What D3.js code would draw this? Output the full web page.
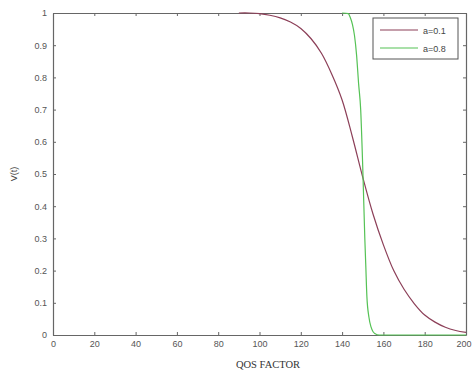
<!DOCTYPE html>
<html>
<head>
<meta charset="utf-8">
<script src="https://cdn.jsdelivr.net/npm/d3@7"></script>
<style>
  html, body { margin: 0; padding: 0; background: #fff; }
  svg { display: block; }
  .tick text { font-family: Arial, "Liberation Sans", sans-serif; font-size: 9px; fill: #555; }
</style>
</head>
<body>
<svg id="chart" width="472" height="376"></svg>
<script>
// a = 0.1 curve
const xLow = [90, 95, 100, 105, 110, 115, 120, 125, 130, 135, 140, 145, 150, 155, 160, 165, 170, 175, 180, 185, 190, 195, 200];
const yLow = [1, 1, 0.998, 0.993, 0.985, 0.972, 0.952, 0.92, 0.875, 0.81, 0.73, 0.615, 0.49, 0.375, 0.28, 0.2, 0.142, 0.097, 0.062, 0.04, 0.024, 0.014, 0.008];
// a = 0.8 curve
const xHigh = [140, 143, 144, 145, 146, 147, 148, 149, 150, 151, 151.5, 152, 153, 154, 155, 156, 158, 170, 200];
const yHigh = [1, 0.998, 0.985, 0.965, 0.93, 0.87, 0.78, 0.70, 0.52, 0.30, 0.21, 0.12, 0.055, 0.025, 0.01, 0.004, 0, 0, 0];
const seriesNames = ["a=0.1", "a=0.8"];
const seriesColors = ["#8c3f58", "#55c255"];
const xTicks = d3.range(0, 201, 20);
const yTicks = d3.range(0, 1.01, 0.1);

const svg = d3.select("#chart");
const L = 53, R = 466, T = 13, B = 335;
const x = d3.scaleLinear().domain([0, 200]).range([L, R]);
const y = d3.scaleLinear().domain([0, 1]).range([B, T]);

const fmtY = d => d === 0 ? "0" : d === 1 ? "1" : d3.format(".1f")(d);

// axes with inward ticks, box style
const axisStyle = g => {
  g.select(".domain").attr("stroke", "#666").attr("stroke-width", 1.2);
  g.selectAll(".tick line").attr("stroke", "#666");
};
const xAxis = svg.append("g").attr("transform", `translate(0,${B})`)
  .call(d3.axisBottom(x).tickValues(xTicks).tickSizeInner(-3).tickSizeOuter(0).tickPadding(6))
  .call(axisStyle);
// keep the last label inside the window
xAxis.selectAll(".tick text").filter(d => d === 200).attr("text-anchor", "end").attr("dx", 5);
svg.append("g").attr("transform", `translate(0,${T})`)
  .call(d3.axisTop(x).tickValues(xTicks).tickSizeInner(-3).tickSizeOuter(0).tickFormat(""))
  .call(axisStyle);
svg.append("g").attr("transform", `translate(${L},0)`)
  .call(d3.axisLeft(y).tickValues(yTicks).tickSizeInner(-3).tickSizeOuter(0).tickPadding(6).tickFormat(fmtY))
  .call(axisStyle);
svg.append("g").attr("transform", `translate(${R},0)`)
  .call(d3.axisRight(y).tickValues(yTicks).tickSizeInner(-3).tickSizeOuter(0).tickFormat(""))
  .call(axisStyle);

const line = d3.line().x(d => x(d[0])).y(d => y(d[1])).curve(d3.curveMonotoneX);
svg.append("path").datum(d3.zip(xLow, yLow))
  .attr("d", line.curve(d3.curveCatmullRom)).attr("fill", "none").attr("stroke", seriesColors[0]).attr("stroke-width", 1.2);
svg.append("path").datum(d3.zip(xHigh, yHigh))
  .attr("d", line.curve(d3.curveMonotoneX)).attr("fill", "none").attr("stroke", seriesColors[1]).attr("stroke-width", 1.2);

// legend
const lg = svg.append("g");
lg.append("rect").attr("x", 373).attr("y", 18).attr("width", 85).attr("height", 41)
  .attr("fill", "#fff").attr("stroke", "#555").attr("stroke-width", 1);
seriesNames.forEach((n, i) => {
  const yy = 30 + i * 18;
  lg.append("line").attr("x1", 380).attr("x2", 418).attr("y1", yy).attr("y2", yy)
    .attr("stroke", seriesColors[i]).attr("stroke-width", 1.2);
  lg.append("text").attr("x", 423).attr("y", yy + 3.5)
    .attr("font-family", "Arial, 'Liberation Sans', sans-serif").attr("font-size", 9).attr("fill", "#444")
    .text(n);
});

// axis labels
svg.append("text").attr("x", 268).attr("y", 368).attr("text-anchor", "middle")
  .attr("font-family", "'Liberation Serif', 'Times New Roman', serif").attr("font-size", 10.5).attr("fill", "#333")
  .text("QOS FACTOR");
svg.append("text").attr("transform", "translate(17,174) rotate(-90)").attr("text-anchor", "middle")
  .attr("font-family", "Arial, 'Liberation Sans', sans-serif").attr("font-size", 9).attr("fill", "#444")
  .text("V(t)");
</script>
</body>
</html>
